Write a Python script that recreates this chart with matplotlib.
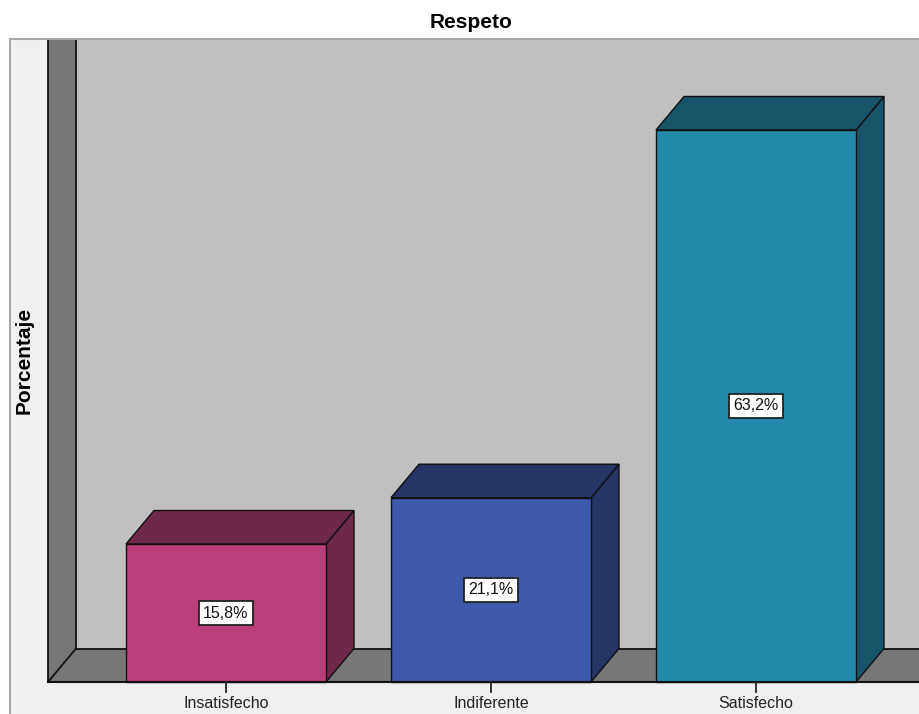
import matplotlib
matplotlib.use('Agg')
import matplotlib.pyplot as plt
from matplotlib.patches import Polygon, Rectangle

plt.rcParams['font.family'] = ['Liberation Sans', 'DejaVu Sans']

categories = ['Insatisfecho', 'Indiferente', 'Satisfecho']
percentages = [15.8, 21.1, 63.2]
value_labels = ['15,8%', '21,1%', '63,2%']
front_colors = ['#b93e7a', '#3e58aa', '#2389aa']
side_colors = ['#70284a', '#263466', '#165468']

# scale of the drawing (pixels per category step / per percent)
px_x = 265.0
px_y = 552.0 / 63.2

fig = plt.figure(figsize=(9.2, 7.14), dpi=100)
ax = fig.add_axes([10 / 920, 0, 910 / 920, (714 - 39) / 714])

x_min, x_max = (10 - 226) / px_x, (920 - 226) / px_x
y_min, y_max = -(714 - 682) / px_y, (682 - 39) / px_y
ax.set_xlim(x_min, x_max)
ax.set_ylim(y_min, y_max)
ax.set_facecolor('#f0f0f0')

DX = 28 / px_x
DY = 33.5 / px_y
half_w = 100 / px_x
wall_x = (48 - 226) / px_x

# back wall, left wall and floor
ax.add_patch(Rectangle((wall_x + DX, DY), x_max - wall_x - DX, y_max - DY,
                       facecolor='#c0c0c0', edgecolor='none', zorder=1))
ax.add_patch(Polygon([(wall_x, 0), (wall_x + DX, DY), (wall_x + DX, y_max), (wall_x, y_max)],
                     facecolor='#777777', edgecolor='none', zorder=1))
ax.add_patch(Polygon([(wall_x, 0), (x_max, 0), (x_max, DY), (wall_x + DX, DY)],
                     facecolor='#777777', edgecolor='none', zorder=1))
lk = dict(color='#111111', lw=1.3, zorder=2, solid_capstyle='butt')
ax.plot([wall_x, wall_x], [0, y_max], **lk)
ax.plot([wall_x + DX, wall_x + DX], [DY, y_max], **lk)
ax.plot([wall_x + DX, x_max], [DY, DY], **lk)
ax.plot([wall_x, wall_x + DX], [0, DY], **lk)
ax.plot([wall_x, x_max], [0, 0], color='#111111', lw=1.5, zorder=5)

# 3D bars
for i, (cat, val, lab) in enumerate(zip(categories, percentages, value_labels)):
    x0, x1 = i - half_w, i + half_w
    ek = dict(edgecolor='#111111', linewidth=1.0, joinstyle='miter')
    ax.add_patch(Polygon([(x1, 0), (x1 + DX, DY), (x1 + DX, val + DY), (x1, val)],
                         facecolor=side_colors[i], zorder=3, **ek))
    ax.add_patch(Polygon([(x0, val), (x1, val), (x1 + DX, val + DY), (x0 + DX, val + DY)],
                         facecolor=side_colors[i], zorder=3, **ek))
    ax.add_patch(Rectangle((x0, 0), x1 - x0, val, facecolor=front_colors[i], zorder=4, **ek))
    ax.text(i, val / 2, lab, ha='center', va='center', fontsize=11.5, zorder=6, color='#111111',
            bbox=dict(boxstyle='square,pad=0.28', facecolor='white', edgecolor='#222222', linewidth=1.3))
    ax.plot([i, i], [0, -10 / px_y], color='#222222', lw=1.3, zorder=5)
    ax.text(i, -21 / px_y, cat, ha='center', va='center', fontsize=11.5, color='#222222')

ax.set_xticks([])
ax.set_yticks([])
for side in ['right', 'bottom']:
    ax.spines[side].set_visible(False)
for side in ['top', 'left']:
    ax.spines[side].set_color('#a8a8a8')
    ax.spines[side].set_linewidth(1.5)

fig.text(471 / 920, 1 - 22 / 714, 'Respeto', ha='center', va='center', fontsize=15, fontweight='bold')
fig.text(24 / 920, 1 - 360 / 714, 'Porcentaje', ha='center', va='center', rotation=90,
         fontsize=15, fontweight='bold')

fig.savefig('out.png', dpi=100, facecolor='white')
